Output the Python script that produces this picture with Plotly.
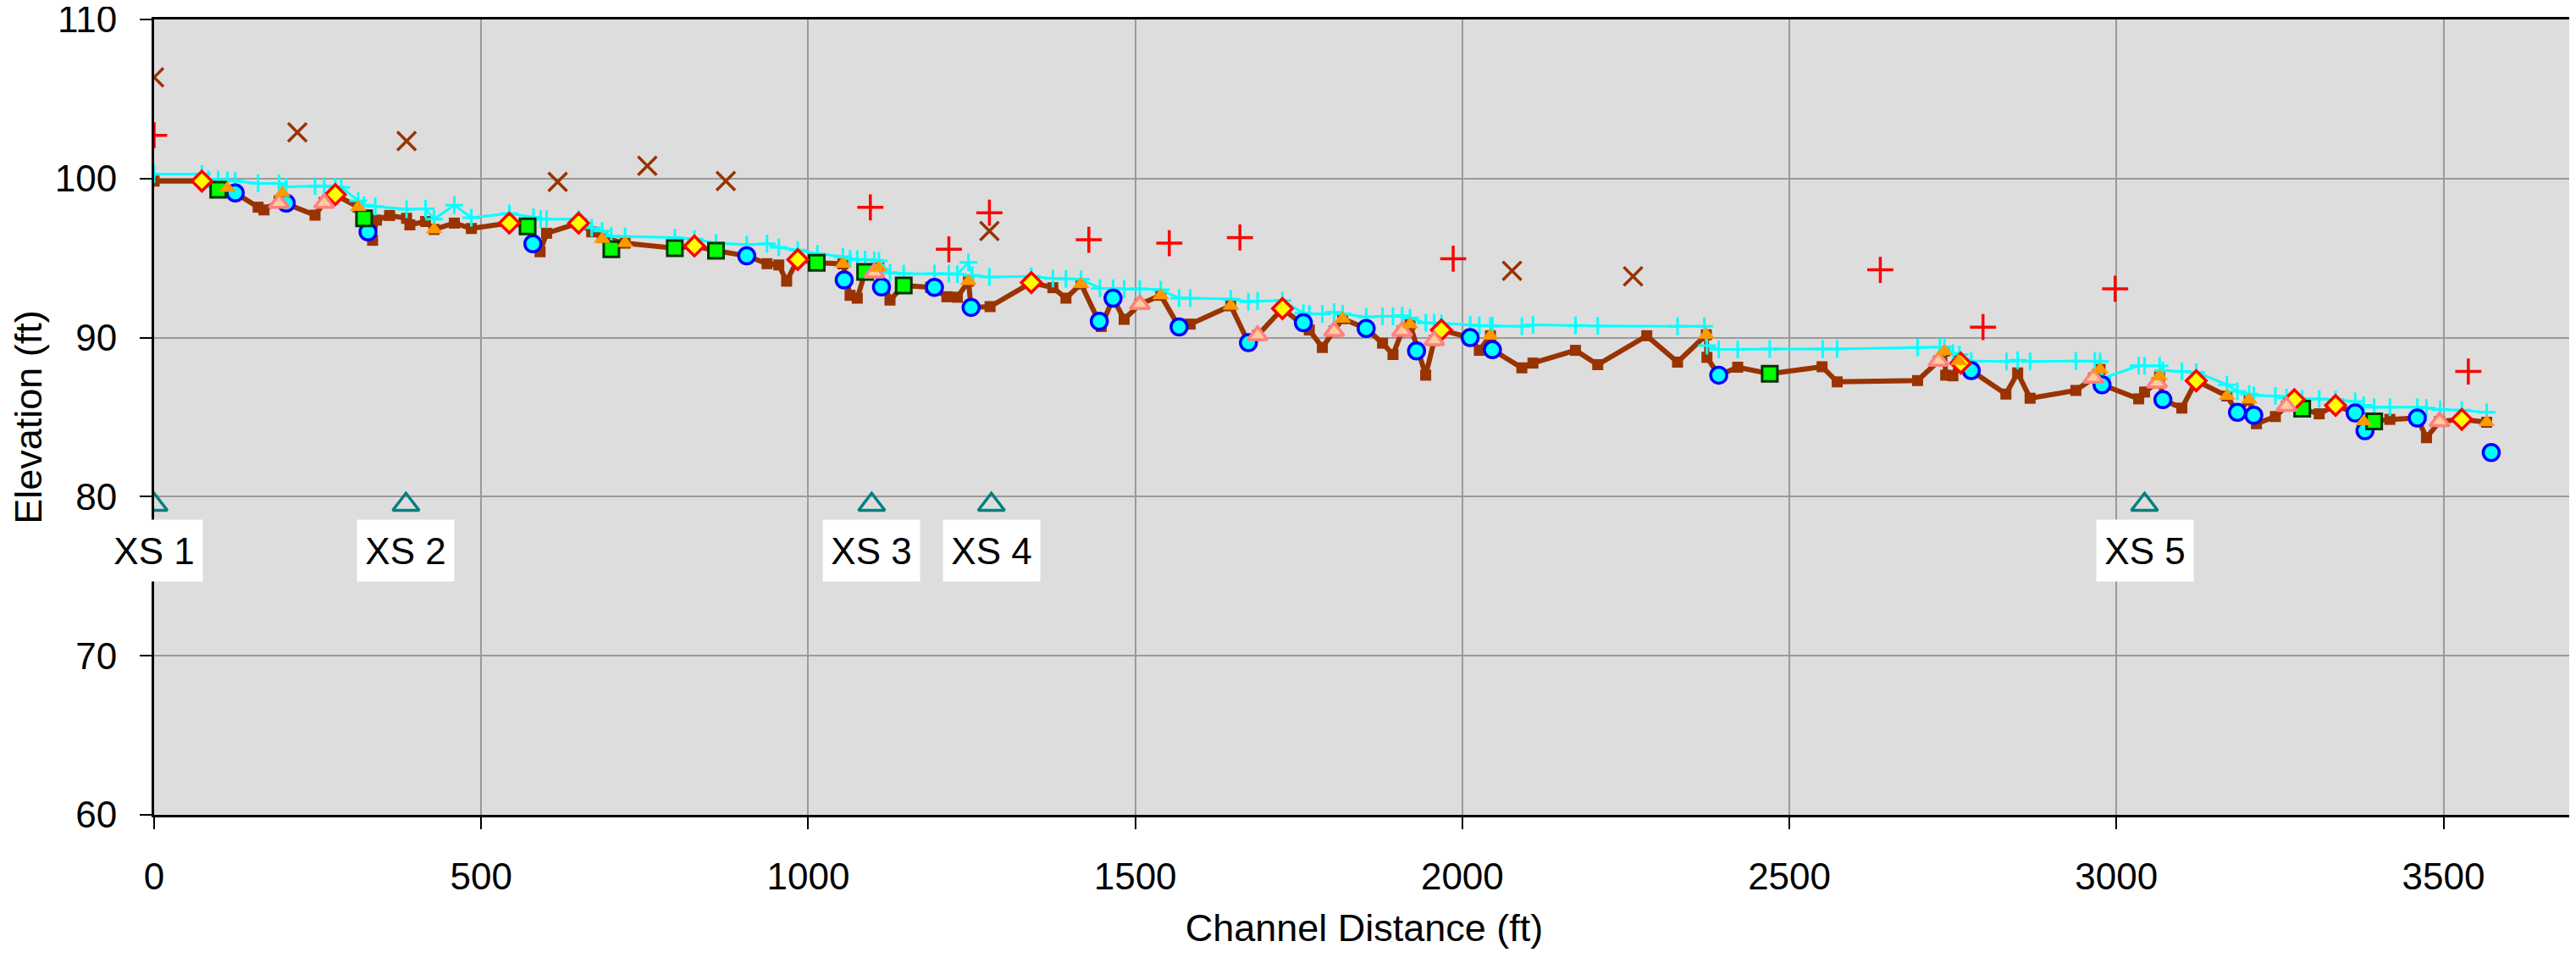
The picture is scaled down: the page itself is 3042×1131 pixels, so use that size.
import plotly.graph_objects as go

# Thalweg profile (brown line with squares)
thalweg_x = [0, 73, 98, 124, 159, 168, 191, 246, 260, 277, 312, 321, 334, 340, 360, 386, 391, 415, 428, 459,
             485, 543, 571, 590, 600, 649, 669, 685, 720, 796, 826, 859, 906, 937, 955, 967, 984, 1013, 1053,
             1064, 1075, 1087, 1101, 1108, 1125, 1146, 1187, 1212, 1228, 1245, 1249, 1278, 1341, 1374, 1394,
             1417, 1448, 1466, 1483, 1507, 1539, 1567, 1584, 1646, 1673, 1687, 1725, 1766, 1786, 1804, 1817,
             1853, 1878, 1894, 1908, 1920, 1944, 1957, 1968, 2012, 2026, 2043, 2046, 2091, 2108, 2173, 2207,
             2282, 2329, 2373, 2374, 2392, 2421, 2470, 2550, 2573, 2696, 2728, 2737, 2739, 2750, 2759, 2762,
             2778, 2831, 2849, 2868, 2938, 2965, 2975, 2978, 3034, 3043, 3062, 3066, 3071, 3100, 3122, 3169,
             3185, 3203, 3214, 3243, 3260, 3272, 3284, 3310, 3335, 3365, 3378, 3394, 3418, 3460, 3474, 3494,
             3528, 3566]
thalweg_y = [99.84, 99.84, 99.4, 99.1, 98.2, 98.03, 98.6, 97.7, 98.5, 98.99, 98.2, 97.6, 96.12, 97.39, 97.68,
             97.5, 97.09, 97.3, 96.8, 97.2, 96.86, 97.2, 97.0, 95.4, 96.56, 97.2, 96.65, 96.3, 95.94, 95.62,
             95.76, 95.46, 95.14, 94.65, 94.57, 93.55, 94.91, 94.7, 94.64, 92.66, 92.48, 94.13, 94.08, 94.38,
             92.36, 93.28, 93.16, 92.57, 92.54, 93.55, 91.9, 91.95, 93.46, 93.14, 92.48, 93.37, 90.7, 92.48,
             91.15, 92.09, 92.66, 90.67, 90.85, 92.0, 89.68, 90.14, 91.83, 90.48, 89.38, 90.41, 91.19, 90.58,
             89.65, 88.94, 90.41, 90.83, 87.64, 89.82, 90.48, 90.0, 89.2, 90.12, 89.24, 88.1, 88.4, 89.2, 88.3,
             90.12, 88.46, 90.18, 88.76, 87.64, 88.14, 87.73, 88.17, 87.22, 87.3, 88.53, 89.15, 87.64, 87.6,
             88.53, 88.4, 87.93, 86.45, 87.78, 86.19, 86.68, 87.46, 88.0, 87.04, 86.15, 86.58, 87.16, 87.57,
             86.1, 85.57, 87.29, 86.33, 85.3, 86.1, 84.59, 85.04, 85.69, 86.1, 85.53, 85.21, 85.74, 85.27,
             84.73, 84.73, 84.86, 84.95, 83.71, 84.73, 84.86, 84.68]

# Water surface (cyan line with + markers)
ws_x = [0, 73, 83, 98, 112, 124, 159, 191, 202, 246, 260, 277, 286, 312, 321, 338, 386, 415, 428, 459, 485,
        543, 580, 591, 600, 649, 669, 685, 699, 720, 796, 826, 859, 906, 937, 955, 984, 1014, 1053, 1064, 1075,
        1087, 1101, 1108, 1125, 1146, 1193, 1215, 1228, 1245, 1251, 1277, 1341, 1374, 1394, 1417, 1446, 1466,
        1483, 1507, 1539, 1567, 1584, 1646, 1673, 1687, 1725, 1757, 1766, 1786, 1804, 1817, 1853, 1878, 1894,
        1908, 1920, 1944, 1957, 1968, 2012, 2026, 2043, 2046, 2091, 2108, 2173, 2207, 2329, 2370, 2374, 2392,
        2421, 2470, 2551, 2573, 2696, 2730, 2737, 2750, 2760, 2778, 2832, 2849, 2868, 2938, 2967, 2975, 2978,
        3034, 3043, 3066, 3071, 3100, 3122, 3169, 3185, 3203, 3210, 3243, 3260, 3272, 3284, 3310, 3335, 3365,
        3378, 3394, 3418, 3460, 3474, 3495, 3528, 3566]
ws_y = [100.28, 100.28, 99.93, 99.93, 99.88, 99.84, 99.7, 99.7, 99.49, 99.52, 99.52, 99.49, 99.45, 98.6,
        98.33, 98.24, 98.07, 98.1, 97.45, 98.33, 97.54, 97.8, 97.57, 97.45, 97.45, 97.45, 96.9, 96.7, 96.38,
        96.35, 96.29, 96.2, 95.94, 95.85, 95.9, 95.67, 95.5, 95.27, 95.09, 94.95, 94.92, 94.9, 94.86, 94.82,
        94.08, 94.02, 94.02, 94.02, 93.99, 94.73, 93.9, 93.81, 93.85, 93.72, 93.69, 93.67, 93.1, 93.1, 93.05,
        93.07, 93.01, 92.48, 92.48, 92.43, 92.25, 92.3, 92.33, 91.54, 91.5, 91.5, 91.6, 91.5, 91.3, 91.33,
        91.33, 91.37, 91.24, 90.92, 90.92, 90.89, 90.8, 90.76, 90.74, 90.74, 90.71, 90.8, 90.76, 90.74, 90.71,
        90.71, 89.5, 89.26, 89.26, 89.29, 89.29, 89.29, 89.38, 89.41, 89.41, 89.02, 88.94, 88.53, 88.5, 88.58,
        88.5, 88.53, 88.53, 88.5, 87.43, 88.23, 88.23, 88.23, 87.93, 87.87, 87.82, 87.04, 86.63, 86.45, 86.37,
        86.33, 86.22, 86.19, 86.15, 86.15, 86.1, 85.98, 85.74, 85.62, 85.62, 85.62, 85.57, 85.48, 85.44, 85.3]

# Pools (cyan circles)
pool_x = [124, 202, 327, 579, 906, 1055, 1112, 1193, 1249, 1445, 1466, 1567, 1673, 1757, 1853, 1930, 2012,
          2046, 2392, 2778, 2978, 3071, 3185, 3210, 3365, 3380, 3460, 3573]
pool_y = [99.1, 98.46, 96.65, 95.9, 95.14, 93.63, 93.19, 93.16, 91.9, 91.03, 92.48, 90.67, 89.68, 90.94,
          90.58, 89.17, 90.0, 89.24, 87.64, 87.93, 87.04, 86.1, 85.3, 85.12, 85.27, 84.15, 84.95, 82.78]

# Riffles (green squares)
riffle_x = [98, 321, 571, 699, 796, 859, 1013, 1087, 1146, 2470, 3284, 3394]
riffle_y = [99.3, 97.5, 97.0, 95.55, 95.62, 95.46, 94.7, 94.13, 93.28, 87.73, 85.53, 84.73]

# Head of riffle (yellow diamonds)
head_x = [73, 277, 543, 649, 826, 984, 1341, 1725, 1968, 2762, 3122, 3272, 3335, 3528]
head_y = [99.84, 98.99, 97.2, 97.2, 95.76, 94.91, 93.46, 91.83, 90.48, 88.4, 87.29, 86.1, 85.74, 84.86]

# Runs (orange triangles)
run_x = [112, 196, 312, 428, 685, 720, 1053, 1108, 1245, 1417, 1539, 1646, 1817, 1920, 2043, 2373, 2737,
         2759, 2975, 3066, 3169, 3203, 3378, 3566]
run_y = [99.4, 99.1, 98.2, 96.8, 96.2, 95.94, 94.64, 94.38, 93.55, 93.37, 92.66, 92.0, 91.19, 90.83, 90.12,
         90.18, 89.15, 88.53, 88.0, 87.57, 86.33, 86.1, 84.73, 84.68]

# Glides (pink triangles)
glide_x = [191, 260, 1101, 1507, 1687, 1804, 1908, 1957, 2728, 2965, 3062, 3260, 3494]
glide_y = [98.46, 98.46, 94.08, 92.09, 90.14, 90.41, 90.41, 89.82, 88.53, 87.46, 87.16, 85.69, 84.73]

# Bankfull (red +)
bkf_x = [0, 1095, 1215, 1277, 1429, 1552, 1660, 1986, 2639, 2796, 2998, 3538]
bkf_y = [102.72, 98.19, 95.55, 97.85, 96.15, 95.94, 96.29, 94.96, 94.26, 90.66, 93.07, 87.87]

# Top of bank (brown x)
tob_x = [0, 219, 386, 617, 754, 874, 1277, 2076, 2261]
tob_y = [106.36, 102.9, 102.36, 99.79, 100.8, 99.84, 96.7, 94.2, 93.85]

# Cross-section locations
xs_x = [0, 385, 1097, 1280, 3043]
xs_y = [79.5, 79.5, 79.5, 79.5, 79.5]
xs_labels = ["XS 1", "XS 2", "XS 3", "XS 4", "XS 5"]
xs_label_y = 76.63

BROWN = "#993300"
FONT = "Liberation Sans, Arial, sans-serif"


def main():
    fig = go.Figure()

    fig.add_trace(go.Scatter(
        x=thalweg_x, y=thalweg_y, mode="lines+markers", name="Thalweg",
        line=dict(color=BROWN, width=6),
        marker=dict(symbol="square", size=13, color=BROWN),
    ))
    fig.add_trace(go.Scatter(
        x=ws_x, y=ws_y, mode="lines+markers", name="Water Surface",
        line=dict(color="#00FFFF", width=3),
        marker=dict(symbol="cross-thin", size=15, color="#00FFFF",
                    line=dict(color="#00FFFF", width=3)),
    ))
    fig.add_trace(go.Scatter(
        x=pool_x, y=pool_y, mode="markers", name="Pool",
        marker=dict(symbol="circle", size=19, color="#00FFFF",
                    line=dict(color="#0000FF", width=3.5)),
    ))
    fig.add_trace(go.Scatter(
        x=riffle_x, y=riffle_y, mode="markers", name="Riffle",
        marker=dict(symbol="square", size=18, color="#00FF00",
                    line=dict(color="#003300", width=3)),
    ))
    fig.add_trace(go.Scatter(
        x=head_x, y=head_y, mode="markers", name="Head of Riffle",
        marker=dict(symbol="diamond", size=18, color="#FFFF00",
                    line=dict(color="#FF0000", width=3.5)),
    ))
    fig.add_trace(go.Scatter(
        x=glide_x, y=glide_y, mode="markers", name="Glide",
        marker=dict(symbol="triangle-up", size=20, color="#FFCC99",
                    line=dict(color="#FF8080", width=3.5)),
    ))
    fig.add_trace(go.Scatter(
        x=run_x, y=run_y, mode="markers", name="Run",
        marker=dict(symbol="triangle-up", size=16, color="#FF9900",
                    line=dict(color="#FF9900", width=1)),
    ))
    fig.add_trace(go.Scatter(
        x=bkf_x, y=bkf_y, mode="markers", name="Bankfull",
        marker=dict(symbol="cross-thin", size=22, color="#FF0000",
                    line=dict(color="#FF0000", width=3.5)),
    ))
    fig.add_trace(go.Scatter(
        x=tob_x, y=tob_y, mode="markers", name="Top of Bank",
        marker=dict(symbol="x-thin", size=22, color=BROWN,
                    line=dict(color=BROWN, width=3.5)),
    ))
    fig.add_trace(go.Scatter(
        x=xs_x, y=xs_y, mode="markers", name="Cross Sections",
        marker=dict(symbol="triangle-up-open", size=27, color="#008080",
                    line=dict(color="#008080", width=3.5)),
    ))

    for x, label in zip(xs_x, xs_labels):
        fig.add_annotation(
            x=x, y=xs_label_y, xref="x", yref="y", text=label, showarrow=False,
            bgcolor="white", width=100, height=58, borderpad=7,
            font=dict(family=FONT, size=44, color="black"),
        )

    axis_common = dict(
        showgrid=True, gridcolor="#9A9A9A", gridwidth=2,
        ticks="outside", ticklen=14, tickwidth=2, tickcolor="black",
        showline=True, linecolor="black", linewidth=3, mirror=True,
        zeroline=False, automargin=False, ticklabeloverflow="allow",
        tickfont=dict(family=FONT, size=44, color="black"),
    )

    # page body keeps a default 8px margin, so the figure is a little smaller
    fig.update_layout(
        width=3034, height=1123,
        margin=dict(l=174, r=2, t=15, b=169),
        paper_bgcolor="white", plot_bgcolor="#DDDDDD",
        showlegend=False,
        font=dict(family=FONT, size=44, color="black"),
        xaxis=dict(range=[0, 3700], dtick=500, tick0=0, ticklabelstandoff=18,
                   title=dict(text="Channel Distance (ft)", standoff=22,
                              font=dict(family=FONT, size=45, color="black")),
                   **axis_common),
        yaxis=dict(range=[60, 110], dtick=10, tick0=60, ticklabelstandoff=18,
                   title=dict(text="Elevation (ft)", standoff=28,
                              font=dict(family=FONT, size=45, color="black")),
                   **axis_common),
    )

    fig.write_html("out.html")


if __name__ == "__main__":
    main()
